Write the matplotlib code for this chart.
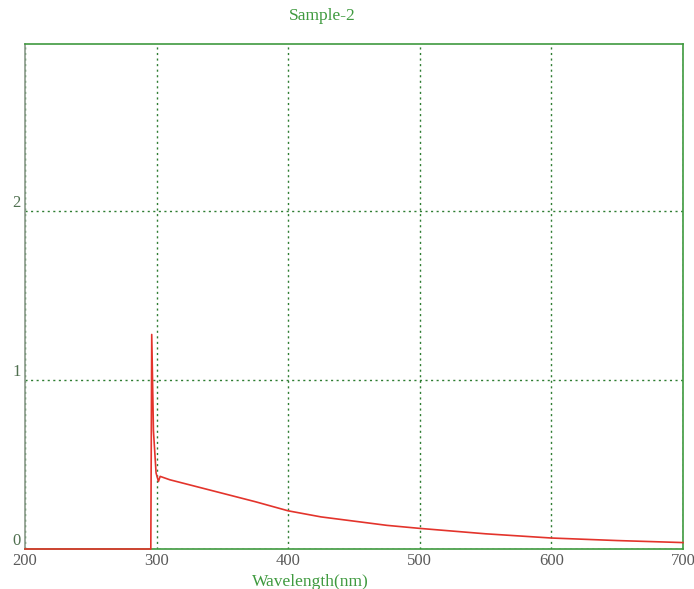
import matplotlib
matplotlib.use("Agg")
import matplotlib.pyplot as plt

title = "Sample-2"
xlabel = "Wavelength(nm)"
wavelength = [200, 240, 295.0, 295.6, 296.3, 297.6, 299.6, 301.4, 302.7, 310, 330, 350, 375, 400, 425, 450, 475, 500, 550, 600, 650, 700]
absorbance = [0.0, 0.0, 0.0, 0.0, 1.27, 0.70, 0.45, 0.40, 0.43, 0.41, 0.37, 0.33, 0.28, 0.226, 0.19, 0.165, 0.14, 0.122, 0.09, 0.065, 0.05, 0.038]
xticks = [200, 300, 400, 500, 600, 700]
yticks = [0, 1, 2]

green = "#3f9a3f"
grid_green = "#2e7d32"
serif = ["Liberation Serif", "DejaVu Serif"]

fig = plt.figure(figsize=(6.94, 5.89), dpi=100)
ax = fig.add_axes([25/694, 1-549/589, (683-25)/694, (549-44)/589])

ax.plot(wavelength, absorbance, color="#e3342c", lw=1.2, zorder=5, clip_on=False)
ax.set_xlim(200, 700)
ax.set_ylim(0, 2.99)
ax.set_xticks(xticks)
ax.set_yticks(yticks)
ax.set_xticklabels([str(v) for v in xticks], fontfamily=serif, fontsize=12, color="#5a5a5a")
ax.set_yticklabels([str(v) for v in yticks], fontfamily=serif, fontsize=12, color="#4f6f4f")
ax.tick_params(length=0, pad=3)
ax.tick_params(axis="y", pad=3)
for lbl in ax.get_yticklabels():
    lbl.set_verticalalignment("bottom")

ax.grid(True, color=grid_green, linestyle=(0, (1.5, 2.5)), linewidth=1.0)
for s in ax.spines.values():
    s.set_color(green)
    s.set_linewidth(1.2)
ax.spines["left"].set_color("#8a9a8a")

fig.text(322/694, 1-16/589, title, ha="center", va="center", fontfamily=serif, fontsize=12.5, color=green)
fig.text(310/694, 1-582/589, xlabel, ha="center", va="center", fontfamily=serif, fontsize=12.5, color=green)

fig.savefig("out.png", dpi=100)
